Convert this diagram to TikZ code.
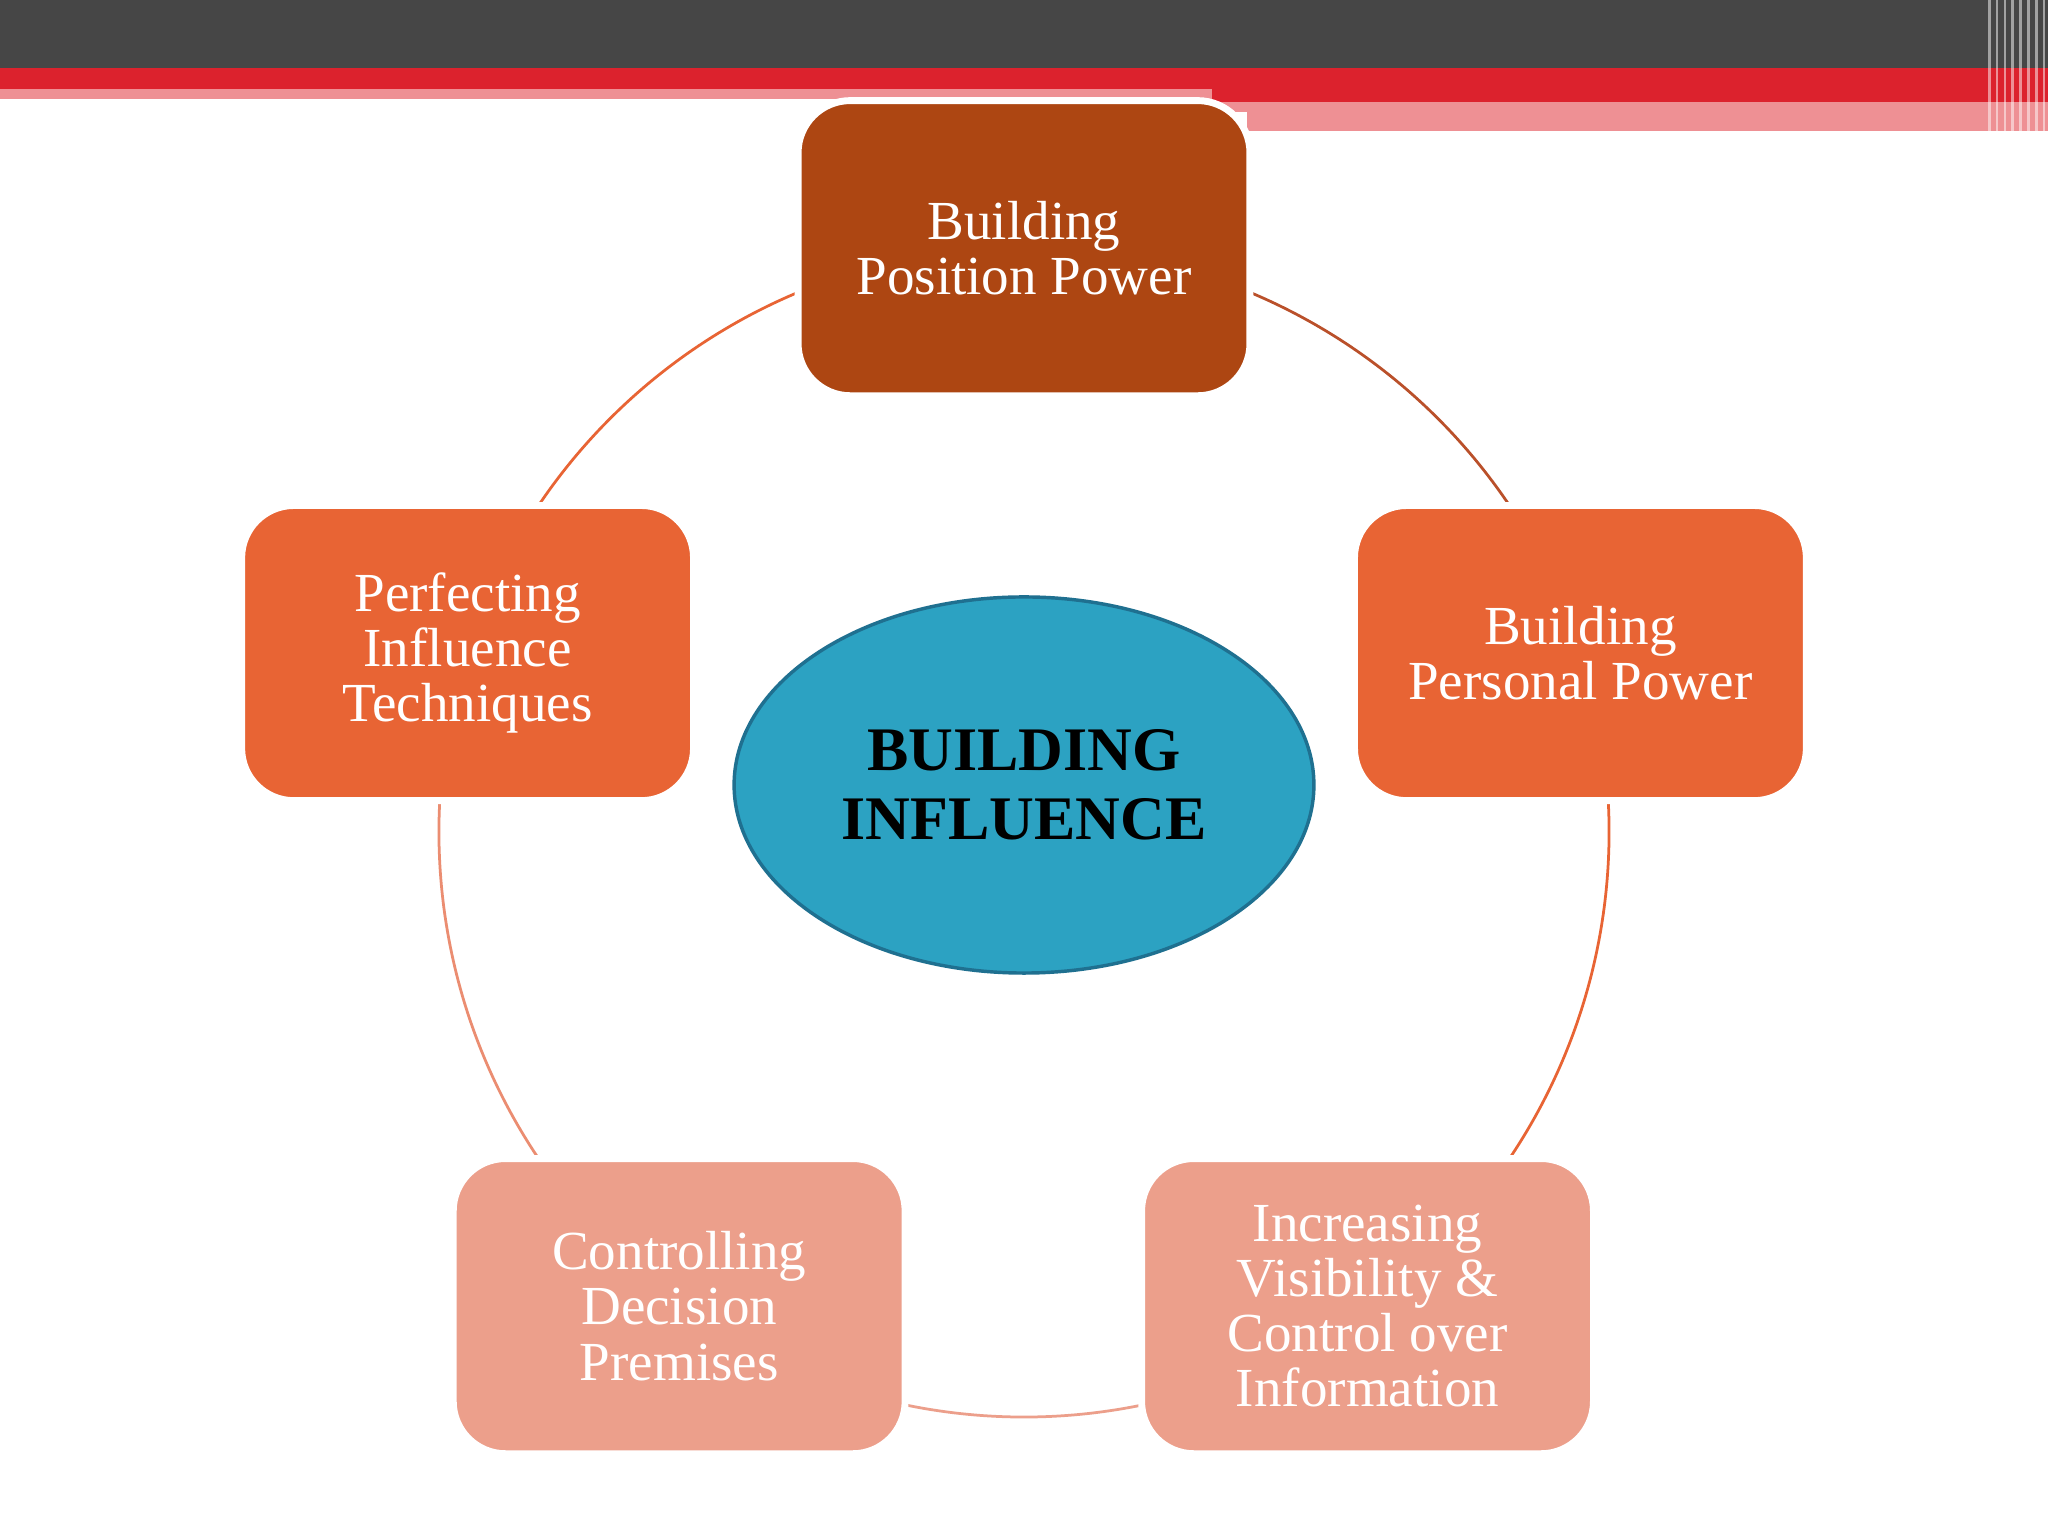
\documentclass[tikz,border=0pt]{standalone}
\usepackage{fontspec}
\setmainfont{Liberation Serif}
\usetikzlibrary{shapes.geometric}
\definecolor{hdr}{HTML}{464646}
\definecolor{red1}{HTML}{DC222D}
\definecolor{pink1}{HTML}{EE9094}
\definecolor{cTop}{HTML}{AD4612}
\definecolor{cMid}{HTML}{E86434}
\definecolor{cLow}{HTML}{EC9F8B}
\definecolor{cEll}{HTML}{2CA2C2}
\definecolor{cEllB}{HTML}{1F7090}
\tikzset{
  px/.style={x=0.02cm,y=-0.02cm},
  box/.style={rounded corners=0.8cm,minimum width=6.92cm,minimum height=4.52cm,draw=white,line width=3pt,
    text=white,align=center,font=\fontsize{24}{24}\selectfont},
  ring/.style={line width=1.2pt}
}
\begin{document}
\begin{tikzpicture}[px]
\useasboundingbox (0,0) rectangle (1568,1176);
\fill[white] (0,0) rectangle (1568,1176);
% header
\fill[hdr] (0,0) rectangle (1568,52);
\fill[red1] (0,52) rectangle (1568,68);
\fill[pink1] (0,68) rectangle (928,76);
\fill[red1] (928,68) rectangle (1568,78);
\fill[pink1] (928,78) rectangle (1452,86);
\fill[pink1] (955,86) rectangle (1568,100);
\fill[white] (1265,100) rectangle (1568,106);
\fill[pink1] (1452,78) rectangle (1568,100);
\foreach \i in {0,...,7}{\fill[white,opacity=0.5] (1522+\i*6,0) rectangle (1524+\i*6,106);}
% ring
\begin{scope}[shift={(784,637)},x=1cm,y=1cm]
\draw[ring,cMid!80!black] (90:8.96cm) arc[start angle=90,end angle=18,radius=8.96cm];
\draw[ring,cMid] (18:8.96cm) arc[start angle=18,end angle=-54,radius=8.96cm];
\draw[ring,cLow] (-54:8.96cm) arc[start angle=-54,end angle=-126,radius=8.96cm];
\draw[ring,cLow!70!cMid] (-126:8.96cm) arc[start angle=-126,end angle=-198,radius=8.96cm];
\draw[ring,cMid] (162:8.96cm) arc[start angle=162,end angle=90,radius=8.96cm];
\end{scope}
% boxes
\node[box,fill=cTop] (top) at (784,190) {Building\\Position Power};
\node[box,fill=cMid] (right) at (1210,500) {Building\\Personal Power};
\node[box,fill=cMid] (left) at (358,500) {Perfecting\\Influence\\Techniques};
\node[box,fill=cLow] (bl) at (520,1000) {Controlling\\Decision\\Premises};
\node[box,fill=cLow] (br) at (1047,1000) {Increasing\\Visibility \&\\Control over\\Information};
% center
\node[ellipse,fill=cEll,draw=cEllB,line width=1.5pt,minimum width=8.88cm,minimum height=5.76cm,
  align=center,font=\fontsize{27}{30}\selectfont\bfseries] (ctr) at (784,601) {BUILDING\\INFLUENCE};
\end{tikzpicture}
\end{document}
